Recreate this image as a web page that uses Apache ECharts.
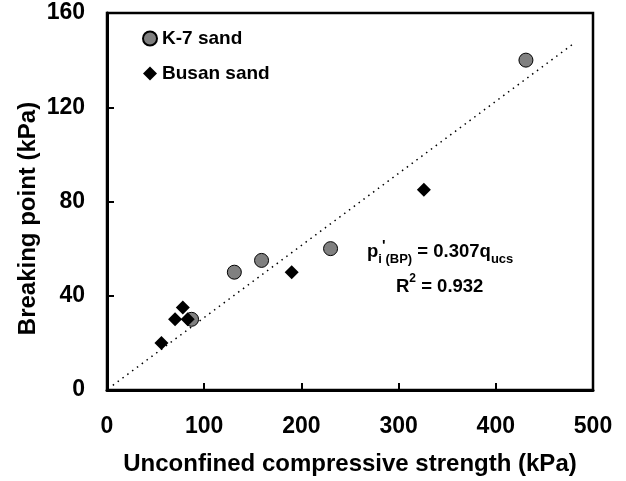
<!DOCTYPE html>
<html><head><meta charset="utf-8">
<script src="https://cdn.jsdelivr.net/npm/echarts@6/dist/echarts.min.js"></script>
<style>html,body{margin:0;padding:0;background:#fff}#c{width:626px;height:481px}</style>
</head><body><div id="c"></div>
<script>
var k7Sand = [[87,30],[131,50],[159,55],[230,60],[431,140]];
var busanSand = [[56,20],[70,30],[78,35],[83,30],[190,50],[326,85]];
var trendLine = [[6,2],[480,147]];
var xTicks = [0,100,200,300,400,500];
var yTicks = [0,40,80,120,160];
var F = 'Liberation Sans, Arial, sans-serif';
var chart = echarts.init(document.getElementById('c'));
chart.setOption({
  animation:false,
  backgroundColor:'#fff',
  grid:{left:107,right:33,top:13,bottom:91,show:true,borderColor:'#000',borderWidth:2.5},
  legend:{left:137,top:24,orient:'vertical',itemGap:16,itemWidth:14,itemHeight:14,
    textStyle:{fontFamily:F,fontWeight:'bold',fontSize:19,color:'#000'},
    data:[{name:'K-7 sand',icon:'circle'},{name:'Busan sand',icon:'diamond'}]},
  xAxis:{type:'value',min:xTicks[0],max:xTicks[xTicks.length-1],interval:100,
    name:'Unconfined compressive strength (kPa)',nameLocation:'middle',nameGap:62,
    nameTextStyle:{fontFamily:F,fontWeight:'bold',fontSize:24,color:'#000'},
    axisLine:{lineStyle:{color:'#000',width:3}},
    axisTick:{inside:true,length:7,lineStyle:{color:'#000',width:2}},
    axisLabel:{fontFamily:F,fontWeight:'bold',fontSize:23,color:'#000',margin:25},
    splitLine:{show:false}},
  yAxis:{type:'value',min:yTicks[0],max:yTicks[yTicks.length-1],interval:40,
    name:'Breaking point (kPa)',nameLocation:'middle',nameGap:67,nameMoveOverlap:false,
    nameTextStyle:{fontFamily:F,fontWeight:'bold',fontSize:24,color:'#000',padding:[0,34,0,0]},
    axisLine:{lineStyle:{color:'#000',width:3}},
    axisTick:{inside:true,length:7,lineStyle:{color:'#000',width:2}},
    axisLabel:{fontFamily:F,fontWeight:'bold',fontSize:23,color:'#000',margin:22},
    splitLine:{show:false}},
  series:[
    {name:'trend',type:'line',data:trendLine,symbol:'none',silent:true,
      lineStyle:{color:'#000',width:1.5,type:[1.5,4.5]},z:1},
    {name:'K-7 sand',type:'scatter',data:k7Sand,symbol:'circle',symbolSize:14,
      itemStyle:{color:'#808080',borderColor:'#000',borderWidth:1,opacity:1},z:3},
    {name:'Busan sand',type:'scatter',data:busanSand,symbol:'diamond',symbolSize:14,
      itemStyle:{color:'#000',opacity:1},z:4}
  ],
  graphic:[
    {type:'text',left:367,top:238,style:{
      text:'{b|p}{s|i}{t|\'}{s|(BP)}{b| = 0.307q}{s|ucs}',
      rich:{b:{fontFamily:F,fontWeight:'bold',fontSize:18.5,fill:'#000',lineHeight:28,verticalAlign:'middle'},
            s:{fontFamily:F,fontWeight:'bold',fontSize:13,fill:'#000',lineHeight:28,verticalAlign:'bottom'},
            t:{fontFamily:F,fontWeight:'bold',fontSize:15,fill:'#000',lineHeight:28,verticalAlign:'top'}}}},
    {type:'text',left:396,top:273,style:{
      text:'{b|R}{t|2}{b| = 0.932}',
      rich:{b:{fontFamily:F,fontWeight:'bold',fontSize:18.5,fill:'#000',lineHeight:28,verticalAlign:'middle'},
            t:{fontFamily:F,fontWeight:'bold',fontSize:12,fill:'#000',lineHeight:28,verticalAlign:'top'}}}}
  ]
});
</script></body></html>
